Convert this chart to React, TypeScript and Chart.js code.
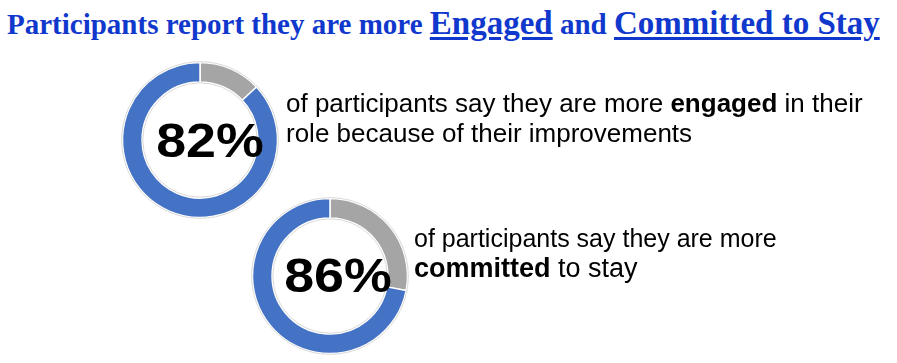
import React, { useEffect, useRef } from "react";
import { Chart, registerables } from "chart.js";

Chart.register(...registerables);

// ---- data ----
const segmentLabels = ["Other", "Yes"];
const engagedValues = [13, 87];
const committedValues = [28, 72];
const segmentColors = ["#A5A5A5", "#4472C4"];
const centerLabels = ["82%", "86%"];

const titleParts = [
  { text: "Participants report they are more ", big: false },
  { text: "Engaged", big: true },
  { text: " and ", big: false },
  { text: "Committed to Stay", big: true },
];

const outlinePlugin = {
  id: "ringOutline",
  afterDatasetsDraw(chart: any) {
    const meta = chart.getDatasetMeta(0);
    const arc = meta.data[0];
    if (!arc) return;
    const { x, y, outerRadius, innerRadius } = arc.getProps(["x", "y", "outerRadius", "innerRadius"], true);
    const ctx = chart.ctx;
    ctx.save();
    ctx.strokeStyle = "#d9d9d9";
    ctx.lineWidth = 1;
    ctx.beginPath();
    ctx.arc(x, y, outerRadius + 0.8, 0, Math.PI * 2);
    ctx.stroke();
    ctx.beginPath();
    ctx.arc(x, y, innerRadius - 0.8, 0, Math.PI * 2);
    ctx.stroke();
    ctx.restore();
  },
};

function Donut({ values, left, top }: { values: number[]; left: number; top: number }) {
  const ref = useRef<HTMLCanvasElement | null>(null);
  useEffect(() => {
    if (!ref.current) return;
    const chart = new Chart(ref.current, {
      type: "doughnut",
      data: {
        labels: segmentLabels,
        datasets: [
          {
            data: values,
            backgroundColor: segmentColors,
            borderColor: "#ffffff",
            borderWidth: 1.5,
          },
        ],
      },
      options: {
        responsive: false,
        animation: false,
        radius: 77.5,
        cutout: "74.8%",
        layout: { padding: 0 },
        plugins: { legend: { display: false }, tooltip: { enabled: false } },
      } as any,
      plugins: [outlinePlugin],
    });
    return () => chart.destroy();
  }, [values]);
  return (
    <canvas
      ref={ref}
      width={180}
      height={180}
      style={{ position: "absolute", left, top, width: 180, height: 180 }}
    />
  );
}

const bodyFont = '"Liberation Sans", Arial, sans-serif';

export default function App() {
  return (
    <div
      style={{
        position: "absolute",
        left: 0,
        top: 0,
        width: 897,
        height: 363,
        background: "#ffffff",
        overflow: "hidden",
      }}
    >
      <div
        style={{
          position: "absolute",
          left: 7,
          top: 3,
          whiteSpace: "nowrap",
          fontFamily: '"Liberation Serif", "Times New Roman", serif',
          fontWeight: "bold",
          fontSize: 29,
          lineHeight: "40px",
          color: "#1038cc",
        }}
      >
        {titleParts.map((p, i) => (
          <span
            key={i}
            style={
              p.big
                ? {
                    fontSize: 33,
                    textDecoration: "underline",
                    textDecorationThickness: 3,
                    textUnderlineOffset: 3,
                    whiteSpace: "pre",
                  }
                : { whiteSpace: "pre" }
            }
          >
            {p.text}
          </span>
        ))}
      </div>

      <Donut values={engagedValues} left={110} top={50} />
      <Donut values={committedValues} left={240} top={185.5} />

      <div
        style={{
          position: "absolute",
          left: 130,
          top: 116.6,
          width: 160,
          textAlign: "center",
          fontFamily: bodyFont,
          fontWeight: "bold",
          fontSize: 48,
          lineHeight: "48px",
          color: "#000",
          transform: "scaleX(1.12)",
        }}
      >
        {centerLabels[0]}
      </div>
      <div
        style={{
          position: "absolute",
          left: 257.5,
          top: 251.6,
          width: 160,
          textAlign: "center",
          fontFamily: bodyFont,
          fontWeight: "bold",
          fontSize: 48,
          lineHeight: "48px",
          color: "#000",
          transform: "scaleX(1.12)",
        }}
      >
        {centerLabels[1]}
      </div>

      <div
        style={{
          position: "absolute",
          left: 286,
          top: 88,
          fontFamily: bodyFont,
          fontSize: 26,
          lineHeight: "30px",
          color: "#000",
          whiteSpace: "nowrap",
        }}
      >
        of participants say they are more <b>engaged</b> in their
        <br />
        role because of their improvements
      </div>
      <div
        style={{
          position: "absolute",
          left: 414,
          top: 222.5,
          fontFamily: bodyFont,
          fontSize: 25,
          lineHeight: "30px",
          color: "#000",
          whiteSpace: "nowrap",
        }}
      >
        of participants say they are more
        <br />
        <span style={{ fontSize: 27 }}>
          <b>committed</b> to stay
        </span>
      </div>
    </div>
  );
}
